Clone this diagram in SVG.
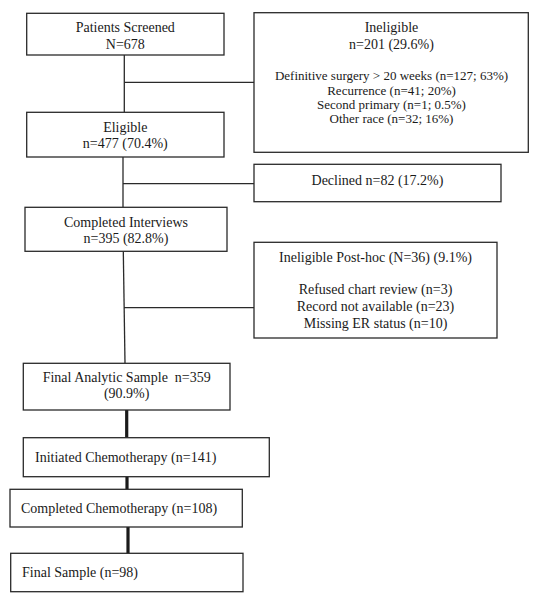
<svg xmlns="http://www.w3.org/2000/svg" width="537" height="600" viewBox="0 0 537 600">
<style>
.box{fill:#fff;stroke:#2a2a2a;stroke-width:1.3}
.ln{fill:none;stroke:#2a2a2a;stroke-width:1.3}
.thick{fill:none;stroke:#1a1a1a;stroke-width:3.2}
text{font-family:"Liberation Serif","Times New Roman",serif;font-size:14px;fill:#1a1a1a}
.c{text-anchor:middle}
.s{font-size:13px}
</style>
<rect width="537" height="600" fill="#fff"/>
<g id="connectors">
<line class="ln" x1="124.3" y1="55" x2="124.3" y2="112.3"/>
<line class="ln" x1="124.3" y1="82.3" x2="254" y2="82.3"/>
<line class="ln" x1="123" y1="157" x2="123" y2="207.3"/>
<line class="ln" x1="123" y1="183.7" x2="254" y2="183.7"/>
<line class="ln" x1="123.3" y1="251.3" x2="125" y2="363.3"/>
<line class="ln" x1="124" y1="307.7" x2="254" y2="307.7"/>
<line class="thick" x1="126.7" y1="410" x2="126.7" y2="437.7"/>
<line class="thick" x1="127" y1="476.7" x2="127" y2="489.3"/>
<line class="thick" x1="128" y1="527" x2="128" y2="553.3"/>
</g>
<g id="screened">
<rect class="box" x="26.7" y="13.3" width="197.3" height="41.7"/>
<text class="c" x="125.3" y="32">Patients Screened</text>
<text class="c" x="125.3" y="48.5">N=678</text>
</g>
<g id="ineligible">
<rect class="box" x="254" y="12.7" width="274.3" height="139.6"/>
<text class="c" x="391.5" y="32">Ineligible</text>
<text class="c" x="391.5" y="48.5">n=201 (29.6%)</text>
<text class="c s" x="391.5" y="80">Definitive surgery &gt; 20 weeks (n=127; 63%)</text>
<text class="c s" x="391.5" y="94.5">Recurrence (n=41; 20%)</text>
<text class="c s" x="391.5" y="108.5">Second primary (n=1; 0.5%)</text>
<text class="c s" x="391.5" y="123">Other race (n=32; 16%)</text>
</g>
<g id="eligible">
<rect class="box" x="26.7" y="112.3" width="197.3" height="44.7"/>
<text class="c" x="125.3" y="131.5">Eligible</text>
<text class="c" x="125.3" y="148">n=477 (70.4%)</text>
</g>
<g id="declined">
<rect class="box" x="254" y="164.3" width="247" height="37.4"/>
<text class="c" x="377.5" y="185">Declined n=82 (17.2%)</text>
</g>
<g id="interviews">
<rect class="box" x="25" y="207.3" width="202" height="44"/>
<text class="c" x="126" y="226.7">Completed Interviews</text>
<text class="c" x="126" y="243.3">n=395 (82.8%)</text>
</g>
<g id="posthoc">
<rect class="box" x="254" y="242.3" width="243" height="95.7"/>
<text class="c" x="375.5" y="261.7">Ineligible Post-hoc (N=36) (9.1%)</text>
<text class="c" x="375.5" y="294.3">Refused chart review (n=3)</text>
<text class="c" x="375.5" y="311">Record not available (n=23)</text>
<text class="c" x="375.5" y="327.7">Missing ER status (n=10)</text>
</g>
<g id="analytic">
<rect class="box" x="23.3" y="363.3" width="206.7" height="46.7"/>
<text class="c" x="126.7" y="381.7" xml:space="preserve">Final Analytic Sample  n=359</text>
<text class="c" x="126.7" y="398.3">(90.9%)</text>
</g>
<g id="initiated">
<rect class="box" x="23.3" y="437.7" width="246" height="39"/>
<text x="35" y="461.7">Initiated Chemotherapy (n=141)</text>
</g>
<g id="completed">
<rect class="box" x="10" y="489.3" width="232.3" height="37.7"/>
<text x="21" y="512.7">Completed Chemotherapy (n=108)</text>
</g>
<g id="final">
<rect class="box" x="10.7" y="553.3" width="232.3" height="38.4"/>
<text x="22" y="576.7">Final Sample (n=98)</text>
</g>
</svg>
